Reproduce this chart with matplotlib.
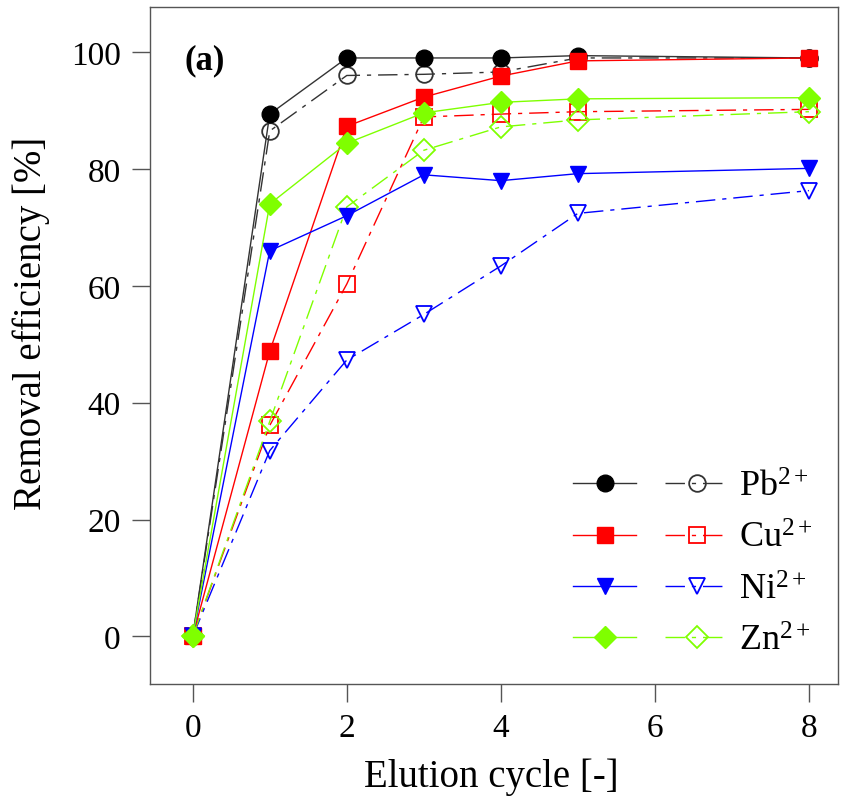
import matplotlib
matplotlib.use("Agg")
import matplotlib.pyplot as plt
from matplotlib.legend_handler import HandlerTuple

plt.rcParams['font.family'] = ['Liberation Serif', 'DejaVu Serif']
plt.rcParams['mathtext.fontset'] = 'custom'
plt.rcParams['mathtext.rm'] = 'Liberation Serif'
plt.rcParams['mathtext.it'] = 'Liberation Serif:italic'
plt.rcParams['mathtext.bf'] = 'Liberation Serif:bold'

cycles = [0, 1, 2, 3, 4, 5, 8]
pb_solid = [0, 89.4, 99.0, 99.0, 99.0, 99.4, 99.0]
pb_open = [0, 86.5, 96.0, 96.2, 96.6, 99.0, 99.0]
cu_solid = [0, 48.8, 87.3, 92.3, 95.9, 98.5, 99.0]
cu_open = [0, 36.1, 60.3, 88.9, 89.4, 89.8, 90.2]
ni_solid = [0, 66.0, 72.0, 79.0, 78.0, 79.2, 80.1]
ni_open = [0, 31.8, 47.3, 55.1, 63.4, 72.4, 76.3]
zn_solid = [0, 74.0, 84.4, 89.6, 91.4, 92.0, 92.2]
zn_open = [0, 36.8, 73.5, 83.2, 87.2, 88.4, 89.8]

labels = ['Pb$^{2+}$', 'Cu$^{2+}$', 'Ni$^{2+}$', 'Zn$^{2+}$']
colors = ['black', '#FF0000', '#0000FF', '#7FFF00']
line_colors = ['#333333', '#FF0000', '#0000FF', '#7FFF00']
markers = ['o', 's', 'v', 'D']
msizes = [12, 12, 12, 11.5]
dash = (0, (14, 5, 3, 5))

fig = plt.figure(figsize=(8.46, 8.12), dpi=100)
ax = fig.add_axes([0.177, 0.156, 0.8135, 0.834])

solids = [pb_solid, cu_solid, ni_solid, zn_solid]
opens = [pb_open, cu_open, ni_open, zn_open]
handles = []
for i in range(4):
    lo, = ax.plot(cycles, opens[i], linestyle=dash, color=line_colors[i], lw=1.0,
                  marker=markers[i], ms=msizes[i], mfc='none',
                  mec=line_colors[i], mew=1.3, zorder=2)
    ls, = ax.plot(cycles, solids[i], linestyle='-', color=line_colors[i], lw=1.0,
                  marker=markers[i], ms=msizes[i], mfc=colors[i], mec=colors[i],
                  zorder=3)
    handles.append((ls, lo))

ax.set_xlim(-0.558, 8.377)
ax.set_ylim(-8.2, 107.7)
ax.set_xticks([0, 2, 4, 6, 8])
ax.set_yticks([0, 20, 40, 60, 80, 100])
ax.tick_params(direction='out', length=13, width=1, labelsize=24, top=False, right=False,
               color='#555555')
ax.tick_params(axis='x', pad=7)
ax.tick_params(axis='y', pad=8)
for sp in ax.spines.values():
    sp.set_linewidth(1.0)
    sp.set_color('#555555')
ax.set_xlabel('Elution cycle [-]', fontsize=28)
ax.set_ylabel('Removal efficiency [%]', fontsize=28)
ax.xaxis.set_label_coords(0.496, -0.108)
ax.yaxis.set_label_coords(-0.145, 0.535)
ax.text(0.05, 0.91, '(a)', transform=ax.transAxes, fontsize=25, fontweight='bold')

leg = ax.legend(handles, labels, handler_map={tuple: HandlerTuple(ndivide=None, pad=0.8)},
                loc='lower right', bbox_to_anchor=(0.995, 0.007), frameon=False,
                fontsize=26, handlelength=4.3, labelspacing=0.5, handletextpad=0.3,
                borderaxespad=0.2)

fig.savefig('out.png', dpi=100)
